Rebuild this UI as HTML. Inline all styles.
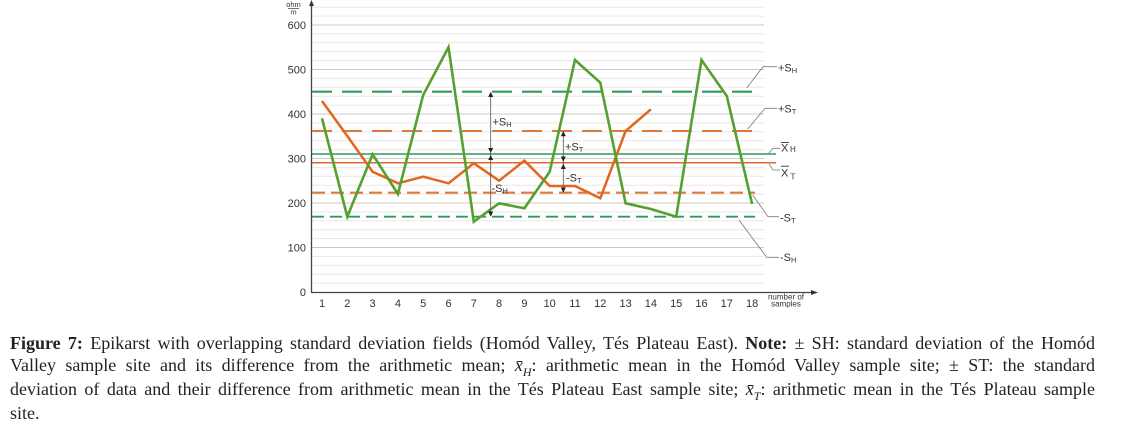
<!DOCTYPE html>
<html>
<head>
<meta charset="utf-8">
<style>
  html,body{margin:0;padding:0;background:#fff;}
  body{width:1128px;height:421px;position:relative;overflow:hidden;}
  svg{position:absolute;left:0;top:0;}
  .cap{position:absolute;left:10px;top:332px;width:1085px;font-family:"Liberation Serif",serif;font-size:18px;line-height:22px;color:#222;}
  .cap div{text-align:justify;text-align-last:justify;white-space:nowrap;}
  .cap div.last{text-align-last:left;}
  .sub{position:relative;top:5px;font-size:12px;font-style:italic;}
</style>
</head>
<body>
<svg width="1128" height="421" viewBox="0 0 1128 421" xmlns="http://www.w3.org/2000/svg" font-family="Liberation Sans, Arial, sans-serif">
  <!-- minor gridlines -->
  <g stroke="#ece6e6" stroke-width="1">
    <line x1="312" x2="764" y1="283.1" y2="283.1"/>
    <line x1="312" x2="764" y1="274.2" y2="274.2"/>
    <line x1="312" x2="764" y1="265.3" y2="265.3"/>
    <line x1="312" x2="764" y1="256.4" y2="256.4"/>
    <line x1="312" x2="764" y1="238.6" y2="238.6"/>
    <line x1="312" x2="764" y1="229.7" y2="229.7"/>
    <line x1="312" x2="764" y1="220.8" y2="220.8"/>
    <line x1="312" x2="764" y1="211.9" y2="211.9"/>
    <line x1="312" x2="764" y1="194.1" y2="194.1"/>
    <line x1="312" x2="764" y1="185.2" y2="185.2"/>
    <line x1="312" x2="764" y1="176.3" y2="176.3"/>
    <line x1="312" x2="764" y1="167.4" y2="167.4"/>
    <line x1="312" x2="764" y1="149.6" y2="149.6"/>
    <line x1="312" x2="764" y1="140.7" y2="140.7"/>
    <line x1="312" x2="764" y1="131.8" y2="131.8"/>
    <line x1="312" x2="764" y1="122.9" y2="122.9"/>
    <line x1="312" x2="764" y1="105.1" y2="105.1"/>
    <line x1="312" x2="764" y1="96.2" y2="96.2"/>
    <line x1="312" x2="764" y1="87.3" y2="87.3"/>
    <line x1="312" x2="764" y1="78.4" y2="78.4"/>
    <line x1="312" x2="764" y1="60.6" y2="60.6"/>
    <line x1="312" x2="764" y1="51.7" y2="51.7"/>
    <line x1="312" x2="764" y1="42.8" y2="42.8"/>
    <line x1="312" x2="764" y1="33.9" y2="33.9"/>
    <line x1="312" x2="764" y1="16.1" y2="16.1"/>
    <line x1="312" x2="764" y1="7.2" y2="7.2"/>
  </g>
  <!-- major gridlines -->
  <g stroke="#c8c8c8" stroke-width="1">
    <line x1="312" x2="764" y1="247.5" y2="247.5"/>
    <line x1="312" x2="764" y1="203" y2="203"/>
    <line x1="312" x2="764" y1="158.5" y2="158.5"/>
    <line x1="312" x2="764" y1="114" y2="114"/>
    <line x1="312" x2="764" y1="69.5" y2="69.5"/>
    <line x1="312" x2="764" y1="25" y2="25"/>
  </g>

  <!-- axes -->
  <line x1="311.5" y1="292.5" x2="311.5" y2="3" stroke="#444" stroke-width="1.3"/>
  <polygon points="311.5,0 309,6 314,6" fill="#333"/>
  <line x1="311" y1="292.5" x2="813" y2="292.5" stroke="#444" stroke-width="1.3"/>
  <polygon points="818,292.5 811,290 811,295" fill="#333"/>

  <!-- y tick labels -->
  <g font-size="11" fill="#333" text-anchor="end">
    <text x="306" y="296">0</text>
    <text x="306" y="251.5">100</text>
    <text x="306" y="207">200</text>
    <text x="306" y="162.5">300</text>
    <text x="306" y="118">400</text>
    <text x="306" y="73.5">500</text>
    <text x="306" y="29">600</text>
  </g>
  <!-- ohm/m -->
  <g font-size="7.5" fill="#333" text-anchor="middle">
    <text x="293.5" y="7">ohm</text>
    <line x1="288" y1="8.6" x2="299" y2="8.6" stroke="#333" stroke-width="0.7"/>
    <text x="293.5" y="14.5">m</text>
  </g>

  <!-- x tick labels -->
  <g font-size="11" fill="#333" text-anchor="middle">
    <text x="322" y="307">1</text>
    <text x="347.3" y="307">2</text>
    <text x="372.6" y="307">3</text>
    <text x="397.9" y="307">4</text>
    <text x="423.2" y="307">5</text>
    <text x="448.5" y="307">6</text>
    <text x="473.8" y="307">7</text>
    <text x="499.1" y="307">8</text>
    <text x="524.4" y="307">9</text>
    <text x="549.7" y="307">10</text>
    <text x="575" y="307">11</text>
    <text x="600.3" y="307">12</text>
    <text x="625.6" y="307">13</text>
    <text x="650.9" y="307">14</text>
    <text x="676.2" y="307">15</text>
    <text x="701.5" y="307">16</text>
    <text x="726.8" y="307">17</text>
    <text x="752.1" y="307">18</text>
  </g>
  <g font-size="8" fill="#333" text-anchor="middle">
    <text x="786" y="299.5">number of</text>
    <text x="786" y="306.5">samples</text>
  </g>

  <!-- reference lines -->
  <line x1="312" x2="756" y1="91.7" y2="91.7" stroke="#2f9a5c" stroke-width="2.2" stroke-dasharray="20 10"/>
  <line x1="312" x2="756" y1="131" y2="131" stroke="#e07a3a" stroke-width="1.9" stroke-dasharray="20 10"/>
  <line x1="312" x2="776" y1="154" y2="154" stroke="#2f9a55" stroke-width="1.5"/>
  <line x1="312" x2="776" y1="162.7" y2="162.7" stroke="#e0692a" stroke-width="1.5"/>
  <line x1="312" x2="755" y1="192.7" y2="192.7" stroke="#e07a3a" stroke-width="2.2" stroke-dasharray="13 6"/>
  <line x1="312" x2="755" y1="216.7" y2="216.7" stroke="#2f9a5c" stroke-width="1.8" stroke-dasharray="12 6"/>

  <!-- series -->
  <polyline fill="none" stroke="#e2661f" stroke-width="2.5" stroke-linejoin="miter"
    points="322,101 347.3,136 372.6,171.7 397.9,183.3 423.2,176.7 448.5,183.3 473.8,163.3 499.1,180.7 524.4,160.7 549.7,186 575,186 600.3,198.3 625.6,131 650.9,109.3"/>
  <polyline fill="none" stroke="#55a030" stroke-width="2.6" stroke-linejoin="miter"
    points="322,118.3 347.3,216.7 372.6,154.3 397.9,194 423.2,95 448.5,47.3 473.8,221.7 499.1,203.3 524.4,208.3 549.7,171.7 575,60 600.3,82.7 625.6,203.3 650.9,209 676.2,216.7 701.5,60 726.8,96 752.1,204"/>

  <!-- SH arrows -->
  <g stroke="#555" stroke-width="0.8">
    <line x1="490.7" y1="93" x2="490.7" y2="216"/>
    <line x1="563.3" y1="132" x2="563.3" y2="192"/>
  </g>
  <g fill="#222">
    <polygon points="490.7,91.7 488.2,97 493.2,97"/>
    <polygon points="490.7,153 488.2,148 493.2,148"/>
    <polygon points="490.7,155 488.2,160 493.2,160"/>
    <polygon points="490.7,216.7 488.2,211.5 493.2,211.5"/>
    <polygon points="563.3,131 560.8,136.3 565.8,136.3"/>
    <polygon points="563.3,161.7 560.8,156.5 565.8,156.5"/>
    <polygon points="563.3,163.7 560.8,169 565.8,169"/>
    <polygon points="563.3,192.7 560.8,187.5 565.8,187.5"/>
  </g>
  <g font-size="11" fill="#333">
    <text x="492.5" y="125.7">+S<tspan font-size="7.5" dy="1.5">H</tspan></text>
    <text x="491.5" y="192">-S<tspan font-size="7.5" dy="1.5">H</tspan></text>
    <text x="565" y="150.7">+S<tspan font-size="7.5" dy="1.5">T</tspan></text>
    <text x="566" y="181.7">-S<tspan font-size="7.5" dy="1.5">T</tspan></text>
  </g>

  <!-- right leaders -->
  <g fill="none" stroke="#7a7a7a" stroke-width="0.8">
    <polyline points="746.7,88 763,66.7 777,66.7"/>
    <polyline points="747.7,129 765,108.3 777,108.3"/>
    <polyline points="769,153.3 772.7,148.3 780,148.3"/>
    <polyline points="769,164 773,170 780,170"/>
    <polyline points="752.7,195 768,216.7 779,216.7"/>
    <polyline points="739,220 766.7,257.3 779,257.3"/>
  </g>
  <g font-size="11" fill="#333">
    <text x="778" y="71.5">+S<tspan font-size="7.5" dy="1.5">H</tspan></text>
    <text x="778" y="112.5">+S<tspan font-size="7.5" dy="1.5">T</tspan></text>
    <text x="781" y="151.7">X</text>
    <text x="790" y="152" font-size="8">H</text>
    <text x="781" y="176.7">X</text>
    <text x="790.5" y="179.5" font-size="8">T</text>
    <text x="780" y="221.5">-S<tspan font-size="7.5" dy="1.5">T</tspan></text>
    <text x="780" y="261">-S<tspan font-size="7.5" dy="1.5">H</tspan></text>
  </g>
  <g stroke="#333" stroke-width="0.9">
    <line x1="781" x2="789" y1="142.5" y2="142.5"/>
    <line x1="781" x2="789" y1="166.2" y2="166.2"/>
  </g>
</svg>

<div class="cap">
  <div><b>Figure 7:</b> Epikarst with overlapping standard deviation fields (Homód Valley, Tés Plateau East). <b>Note:</b> ± SH: standard deviation of the Homód</div>
  <div>Valley sample site and its difference from the arithmetic mean; <i>x&#772;</i><span class="sub">H</span>: arithmetic mean in the Homód Valley sample site; ± ST: the standard</div>
  <div>deviation of data and their difference from arithmetic mean in the Tés Plateau East sample site; <i>x&#772;</i><span class="sub">T</span>: arithmetic mean in the Tés Plateau sample</div>
  <div class="last">site.</div>
</div>
</body>
</html>
